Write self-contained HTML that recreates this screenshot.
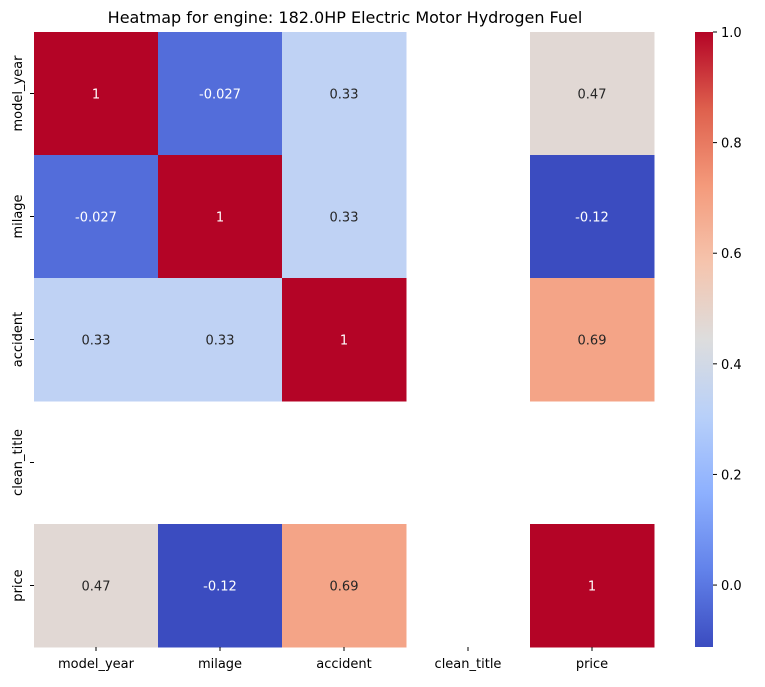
<!DOCTYPE html>
<html><head><meta charset="utf-8"><style>
body{margin:0;background:#fff;font-family:"Liberation Sans","DejaVu Sans",sans-serif;}
svg text{font-family:"DejaVu Sans","Liberation Sans",sans-serif;}
</style></head><body>
<svg id="chart" width="765" height="682" xmlns="http://www.w3.org/2000/svg">
<text x="345" y="23" font-size="16" text-anchor="middle">Heatmap for engine: 182.0HP Electric Motor Hydrogen Fuel</text>
<g id="cells"></g><g id="xt"></g><g id="yt"></g>
<defs><linearGradient id="cg" x1="0" y1="1" x2="0" y2="0"></linearGradient></defs>
<rect x="695" y="32" width="18" height="615" fill="url(#cg)"/>
<g id="ct"></g>
</svg>
<script>
const labels=["model_year","milage","accident","clean_title","price"];
const values=[
[1,-0.027,0.33,null,0.47],
[-0.027,1,0.33,null,-0.12],
[0.33,0.33,1,null,0.69],
[null,null,null,null,null],
[0.47,-0.12,0.69,null,1]];
const cbTicks=[-0.0,0.2,0.4,0.6,0.8,1.0];
const vmin=-0.112,vmax=1;
const stops=[[59,76,192],[98,130,234],[141,176,254],[184,208,249],[221,221,221],[245,196,173],[244,154,123],[222,96,77],[180,4,38]];
function cmap(t){t=Math.max(0,Math.min(1,t));const p=t*8,i=Math.min(7,Math.floor(p)),f=p-i;const a=stops[i],b=stops[i+1];return `rgb(${a.map((v,k)=>Math.round(v+(b[k]-v)*f)).join(',')})`;}
const NS="http://www.w3.org/2000/svg";
const x0=34,y0=32,cw=124,ch=123;
function el(t,a,p){const e=document.createElementNS(NS,t);for(const k in a)e.setAttribute(k,a[k]);p.appendChild(e);return e;}
const cells=document.getElementById('cells');
values.forEach((row,r)=>row.forEach((v,c)=>{if(v===null)return;const t=(v-vmin)/(vmax-vmin);
const rc=el('rect',{x:x0+c*cw,y:y0+r*ch,width:cw+0.5,height:ch+0.5,fill:cmap(t)},cells);


const tx=el('text',{x:x0+c*cw+cw/2,y:y0+r*ch+ch/2+5,'font-size':13,'text-anchor':'middle',fill:(t<0.2||t>0.85)?'#fff':'#262626'},cells);
tx.textContent=String(v);

}));
const xt=document.getElementById('xt'),yt=document.getElementById('yt');
labels.forEach((l,i)=>{const x=x0+i*cw+cw/2;el('line',{x1:x,x2:x,y1:647,y2:651,stroke:'#000'},xt);
const t=el('text',{x:x,y:668,'font-size':13,'text-anchor':'middle'},xt);t.textContent=l;


const y=y0+i*ch+ch/2;el('line',{x1:30,x2:34,y1:y,y2:y,stroke:'#000'},yt);
const u=el('text',{x:22,y:y,'font-size':13,'text-anchor':'middle',transform:`rotate(-90 22 ${y})`},yt);u.textContent=l;

});
const g=document.getElementById('cg');
for(let i=0;i<=8;i++){el('stop',{offset:i/8,'stop-color':cmap(i/8)},g);}
const ct=document.getElementById('ct');
cbTicks.forEach(v=>{const y=647-(v-vmin)/(vmax-vmin)*615;el('line',{x1:713,x2:717,y1:y,y2:y,stroke:'#000'},ct);
const t=el('text',{x:721,y:y+5,'font-size':13},ct);t.textContent=v.toFixed(1);

});
</script>
</body></html>
